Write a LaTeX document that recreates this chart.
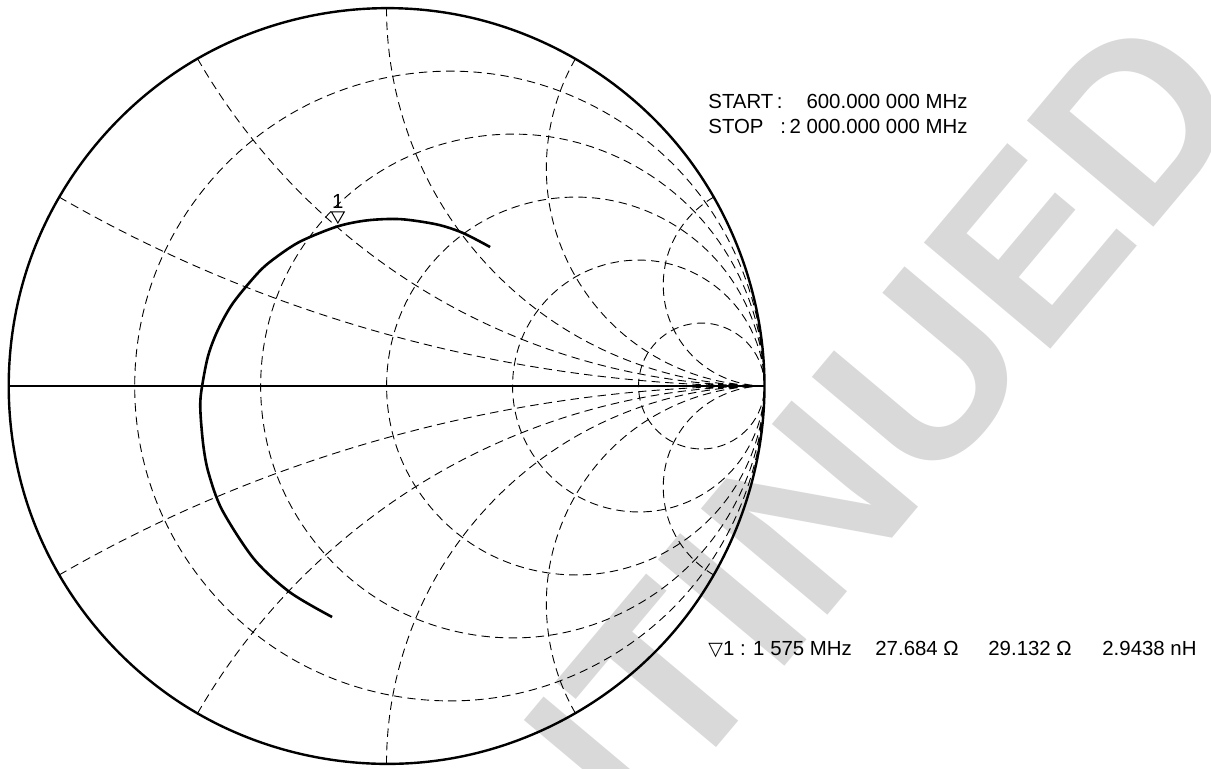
\documentclass[border=0pt]{standalone}
\usepackage{fontspec}
\setmainfont{Liberation Sans}
\newfontfamily\dejavu{DejaVu Sans}
\usepackage{pgfplots}
\pgfplotsset{compat=1.18}
\usepgfplotslibrary{smithchart}
\definecolor{wmgray}{RGB}{217,217,217}

% reflection coefficient of the sweep, 600 MHz -> 2000 MHz
\pgfplotstableread{
gx       gy
-0.1439  -0.6111
-0.2553  -0.5458
-0.3505  -0.4577
-0.4349  -0.3278
-0.4704  -0.2312
-0.4841  -0.1611
-0.4921  -0.0712
-0.4905  -0.0183
-0.4728   0.0765
-0.4466   0.1471
-0.4058   0.2198
-0.3373   0.3021
-0.2905   0.3418
-0.2272   0.3828
-0.1312   0.4217
-0.0521   0.4381
 0.0362   0.4415
 0.1328   0.4275
 0.2013   0.4053
 0.2741   0.3677
}\sweep

\begin{document}
\begin{tikzpicture}
\useasboundingbox (-193.25pt,-191pt) rectangle (412.25pt,193pt);

% watermark behind the chart
\node[rotate=50, anchor=base east, inner sep=0pt, text=wmgray,
      font=\bfseries\fontsize{120}{122}\selectfont] at (434.3pt,140.05pt) {DISCONTINUED};

\begin{smithchart}[
  at={(0pt,0pt)}, anchor=center,
  scale only axis, width=378pt,
  xtick={0.2,0.5,1,2,5},
  ytick={-3.7321,-1.7321,-1,-0.5774,-0.2679,0.2679,0.5774,1,1.7321,3.7321},
  xticklabels={}, yticklabels={},
  major tick length=0pt,
  grid=major,
  major grid style={black, line width=0.45pt, dash pattern=on 4.2pt off 2.6pt},
  axis line style={black, line width=1.2pt},
  clip=false,
]
\addplot[is smithchart cs, black, line width=0.6pt] coordinates {(-1,0) (1,0)};
\addplot[is smithchart cs, black, line width=1.3pt, smooth] table[x=gx, y=gy] {\sweep};
\addplot[is smithchart cs, only marks, mark=triangle, mark size=3.67pt,
  mark options={yshift=5.2pt, rotate=180, line width=0.5pt, fill=white}]
  coordinates {(-0.1286,0.4232)}
  node[anchor=base, yshift=9pt, inner sep=0pt, font=\fontsize{10.2}{12}\selectfont] {1};
\end{smithchart}

\begin{scope}[every node/.style={inner sep=0pt, font=\fontsize{10.2}{12}\selectfont}]
\node[anchor=base west] at (160.75pt,139pt) {START\,:};
\node[anchor=base east] at (290.75pt,139pt) {600.000 000 MHz};
\node[anchor=base west] at (160.75pt,126.5pt) {STOP};
\node[anchor=base east] at (290.75pt,126.5pt) {:\,2 000.000 000 MHz};
\node[anchor=base west] at (160.75pt,-134.5pt) {{\dejavu\fontsize{9.5}{10}\selectfont ▽}1 : 1 575 MHz};
\node[anchor=base west] at (244.25pt,-134.5pt) {27.684 Ω};
\node[anchor=base west] at (300.75pt,-134.5pt) {29.132 Ω};
\node[anchor=base west] at (357.75pt,-134.5pt) {2.9438 nH};
\end{scope}
\end{tikzpicture}
\end{document}
